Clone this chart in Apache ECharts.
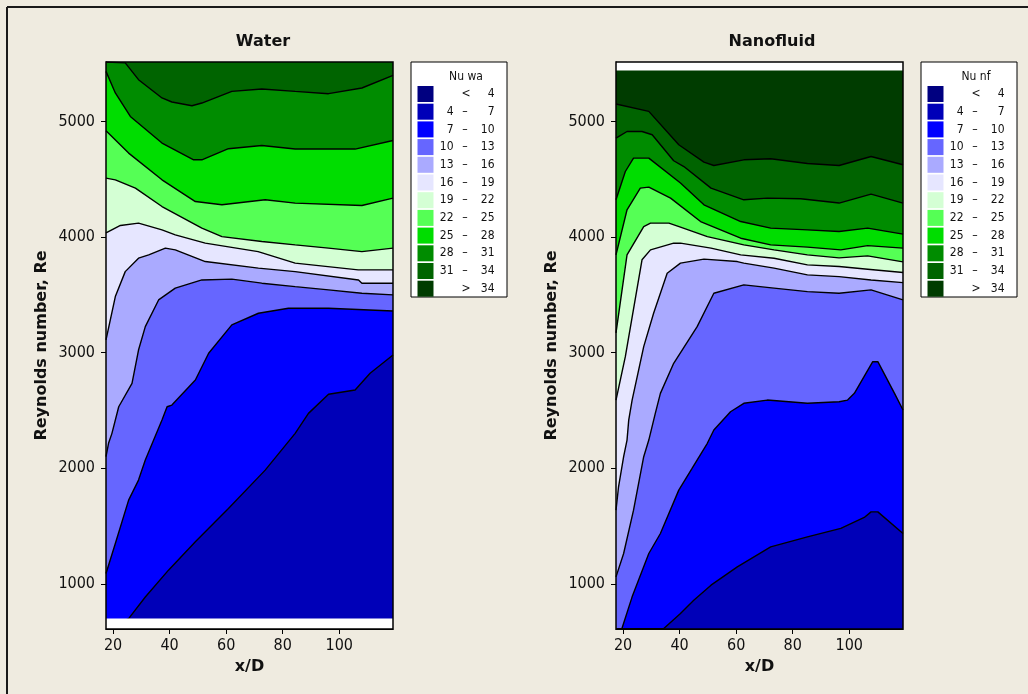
<!DOCTYPE html>
<html><head><meta charset="utf-8">
<script src="https://cdn.jsdelivr.net/npm/echarts@6/dist/echarts.min.js"></script>
<style>html,body{margin:0;padding:0;background:#EFEBE0}#c{width:1028px;height:694px}</style>
</head><body><div id="c"></div>
<script>
// ---------- axis ticks / ranges ----------
const xTicks = [20, 40, 60, 80, 100];
const reTicks = [1000, 2000, 3000, 4000, 5000];
const xRange = [17.5, 119];
const reRange = [610, 5514];
// data extent of each panel (outside: white)
const waterReRange = [700, 5500];
const nanoReRange = [610, 5441];

// ---------- contour levels / colours ----------
const nuLevels = [4, 7, 10, 13, 16, 19, 22, 25, 28, 31, 34];
const bandColors = ['#000080', '#0000B8', '#0000FF', '#6666FF', '#AAAAFF', '#E6E6FF',
                    '#D4FFD4', '#55FF55', '#00DD00', '#008C00', '#006400', '#003C00'];
const panelTitles = ['Water', 'Nanofluid'];
const legendTitles = ['Nu wa', 'Nu nf'];

// ---------- Water: contour lines [x/D, Re] ----------
const wa7  = [[17.5,610],[25.5,700],[31.4,887],[39.6,1119],[49.1,1364],[60.8,1653],[73.8,1984],[84.4,2302],[89.1,2475],[96.2,2640],[105.6,2677],[110.9,2822],[119,2980]];
const wa10 = [[17.5,1090],[20.8,1350],[25.5,1725],[29.0,1898],[31.4,2071],[37.3,2417],[39.1,2532],[40.8,2547],[49.1,2764],[53.8,2995],[62.0,3240],[71.4,3341],[82.0,3384],[96.2,3384],[119,3361]];
const wa13 = [[17.5,2100],[18.4,2216],[19.6,2302],[22.0,2532],[26.7,2735],[29.0,3023],[31.4,3225],[36.1,3456],[42.0,3558],[51.4,3629],[62.0,3636],[72.6,3601],[84.4,3571],[96.2,3543],[108.0,3514],[119,3500]];
const wa16 = [[17.5,3110],[20.8,3485],[24.3,3701],[29.0,3817],[32.6,3846],[38.5,3904],[42.0,3889],[52.6,3788],[71.4,3731],[84.4,3701],[106.8,3629],[108.0,3601],[119,3601]];
const wa19 = [[17.5,4036],[22.6,4100],[29.0,4120],[37.3,4062],[42.0,4019],[52.6,3947],[71.3,3874],[84.4,3774],[106.7,3716],[119,3716]];
const wa22 = [[17.5,4510],[20.8,4495],[27.9,4423],[37.3,4264],[51.4,4077],[58.5,4004],[72.6,3961],[84.4,3932],[96.2,3904],[108.0,3874],[119,3904]];
const wa25 = [[17.5,4919],[25.5,4726],[37.3,4495],[49.1,4307],[58.5,4279],[73.8,4322],[84.4,4293],[108.0,4273],[119,4337]];
const wa28 = [[17.5,5433],[20.8,5246],[26.1,5043],[37.3,4813],[48.5,4668],[51.4,4668],[60.8,4764],[72.6,4792],[84.4,4761],[96.2,4761],[105.6,4761],[119,4835]];
const wa31 = [[17.5,5514],[24.3,5506],[29.0,5361],[37.3,5203],[40.8,5168],[47.9,5136],[51.4,5159],[62.0,5260],[72.6,5281],[84.4,5260],[96.2,5240],[108.0,5289],[119,5398]];

// ---------- Nanofluid: contour lines [x/D, Re] ----------
const nf7  = [[17.5,610],[34.4,614],[40.3,744],[45.0,859],[51.1,989],[60.4,1147],[72.2,1320],[85.2,1407],[97.0,1480],[105.3,1575],[107.7,1623],[110.1,1623],[119,1436]];
const nf10 = [[17.5,610],[19.6,614],[23.2,888],[29.1,1263],[33.2,1436],[39.7,1811],[44.4,1999],[49.8,2216],[52.1,2331],[58.0,2489],[62.7,2562],[71.0,2590],[85.2,2562],[96.4,2576],[99.4,2590],[101.8,2648],[108.3,2922],[110.1,2922],[116.0,2648],[119,2504]];
const nf13 = [[17.5,1061],[20.2,1263],[23.7,1638],[27.3,2100],[29.1,2244],[31.4,2475],[33.2,2648],[37.9,2908],[46.2,3225],[52.1,3514],[62.7,3586],[73.4,3558],[85.2,3528],[96.4,3514],[107.7,3543],[119,3456]];
const nf16 = [[17.5,1638],[18.4,1840],[20.2,2100],[21.4,2244],[22.0,2417],[23.2,2590],[27.3,3052],[30.8,3341],[35.6,3687],[40.3,3774],[48.6,3809],[60.4,3788],[62.7,3774],[73.4,3731],[85.2,3673],[96.4,3658],[107.7,3629],[119,3606]];
const nf19 = [[17.5,2590],[20.8,2965],[26.7,3803],[29.7,3889],[37.9,3947],[40.3,3947],[51.1,3904],[61.6,3846],[73.4,3817],[85.2,3759],[96.4,3745],[106.5,3722],[119,3693]];
const nf22 = [[17.5,3171],[19.4,3500],[21.4,3846],[27.3,4091],[29.7,4120],[36.2,4120],[40.3,4086],[49.8,4004],[62.7,3932],[73.4,3889],[85.2,3846],[96.4,3820],[106.5,3837],[119,3785]];
const nf25 = [[17.5,3846],[21.4,4236],[26.1,4423],[29.1,4432],[36.8,4337],[47.4,4134],[61.6,3990],[72.2,3932],[85.2,3913],[97.0,3889],[106.5,3926],[119,3904]];
const nf28 = [[17.5,4322],[20.8,4567],[23.7,4683],[29.1,4683],[40.3,4467],[48.6,4279],[61.6,4134],[72.2,4077],[85.2,4062],[96.4,4048],[106.5,4077],[119,4025]];
const nf31 = [[17.5,4856],[21.4,4913],[26.7,4913],[30.3,4885],[37.9,4660],[41.5,4610],[51.1,4423],[62.7,4322],[71.0,4337],[82.8,4331],[96.4,4294],[107.7,4371],[119,4294]];
const nf34 = [[17.5,5151],[29.1,5087],[39.7,4798],[48.6,4648],[52.1,4619],[62.7,4668],[72.2,4677],[85.2,4636],[96.4,4619],[107.7,4697],[119,4625]];

const waterLines = [[7,wa7],[10,wa10],[13,wa13],[16,wa16],[19,wa19],[22,wa22],[25,wa25],[28,wa28],[31,wa31]];
const nanoLines  = [[7,nf7],[10,nf10],[13,nf13],[16,nf16],[19,nf19],[22,nf22],[25,nf25],[28,nf28],[31,nf31],[34,nf34]];

// ---------- layout ----------
const gridTop = 62, gridH = 567, gridW = 287;
const gridLefts = [106, 616];
const legendLefts = [411, 921];
const titleX = [263, 772];
const tickFont = 'DejaVu Sans Condensed';
const boldFont = 'DejaVu Sans';

const chart = echarts.init(document.getElementById('c'), null, {renderer: 'canvas'});

const grids = gridLefts.map(l => ({left: l, top: gridTop, width: gridW, height: gridH,
  show: true, backgroundColor: bandColors[1], borderWidth: 0, outerBoundsMode: 'none', containLabel: false}));

const plain = v => String(v);
const xAxes = [0, 1].map(g => ({
  type: 'value', gridIndex: g, min: xRange[0], max: xRange[1],
  axisLine: {show: true, lineStyle: {color: '#000', width: 1}},
  axisTick: {show: true, length: 5, customValues: xTicks, lineStyle: {color: '#000', width: 1}},
  axisLabel: {customValues: xTicks, formatter: plain, color: '#111', fontFamily: tickFont, fontSize: 16, margin: 9},
  splitLine: {show: false},
  name: 'x/D', nameLocation: 'middle', nameGap: 30,
  nameTextStyle: {fontFamily: boldFont, fontWeight: 'bold', fontSize: 16, color: '#111'}
}));
const yAxes = [0, 1].map(g => ({
  type: 'value', gridIndex: g, min: reRange[0], max: reRange[1],
  axisLine: {show: true, lineStyle: {color: '#000', width: 1}},
  axisTick: {show: true, length: 5, customValues: reTicks, lineStyle: {color: '#000', width: 1}},
  axisLabel: {customValues: reTicks, formatter: plain, color: '#111', fontFamily: tickFont, fontSize: 16, margin: 11},
  splitLine: {show: false},
  name: 'Reynolds number, Re', nameLocation: 'middle', nameGap: 56,
  nameTextStyle: {fontFamily: boldFont, fontWeight: 'bold', fontSize: 16, color: '#111'}
}));

const series = [];
[waterLines, nanoLines].forEach((lines, g) => {
  lines.forEach(([lev, pts], k) => {
    series.push({
      type: 'line', xAxisIndex: g, yAxisIndex: g, data: pts,
      showSymbol: false, symbol: 'none', silent: true, animation: false, clip: true,
      lineStyle: {color: '#000', width: 1.4},
      areaStyle: {color: bandColors[nuLevels.indexOf(lev) + 1], opacity: 1, origin: 'end'},
      z: 2 + k
    });
  });
});
// white areas outside the measured range
series.push({
  type: 'line', xAxisIndex: 0, yAxisIndex: 0, silent: true, animation: false, symbol: 'none',
  data: [[xRange[0], waterReRange[0]], [xRange[1], waterReRange[0]]],
  lineStyle: {width: 0}, areaStyle: {color: '#FFFFFF', opacity: 1, origin: 'start'}, z: 40
});
series.push({
  type: 'line', xAxisIndex: 1, yAxisIndex: 1, silent: true, animation: false, symbol: 'none',
  data: [[xRange[0], nanoReRange[1]], [xRange[1], nanoReRange[1]]],
  lineStyle: {width: 0}, areaStyle: {color: '#FFFFFF', opacity: 1, origin: 'end'}, z: 40
});

// ---------- graphics: frames, titles, legends ----------
const graphic = [];
graphic.push({type: 'line', z: 100, shape: {x1: 7, y1: 7, x2: 1028, y2: 7}, style: {stroke: '#1a1a1a', lineWidth: 2}});
graphic.push({type: 'line', z: 100, shape: {x1: 7, y1: 7, x2: 7, y2: 694}, style: {stroke: '#1a1a1a', lineWidth: 2}});
gridLefts.forEach((l, g) => {
  graphic.push({type: 'rect', z: 100, shape: {x: l, y: gridTop, width: gridW, height: gridH},
    style: {fill: 'none', stroke: '#000', lineWidth: 1.5}});
  graphic.push({type: 'text', z: 100, x: titleX[g], y: 42,
    style: {text: panelTitles[g], fill: '#111', fontFamily: boldFont, fontWeight: 'bold', fontSize: 16, align: 'center', verticalAlign: 'middle'}});
  const L = legendLefts[g];
  graphic.push({type: 'rect', z: 100, shape: {x: L, y: 62, width: 96, height: 235},
    style: {fill: '#FFFFFF', stroke: '#000', lineWidth: 1}});
  graphic.push({type: 'text', z: 101, x: L + 55, y: 77,
    style: {text: legendTitles[g], fill: '#111', fontFamily: tickFont, fontSize: 12, align: 'center', verticalAlign: 'middle'}});
  bandColors.forEach((c, i) => {
    const top = 86 + 17.7 * i, cy = top + 8;
    graphic.push({type: 'rect', z: 101, shape: {x: L + 6.5, y: top, width: 16, height: 16}, style: {fill: c}});
    const ts = {fill: '#111', fontFamily: tickFont, fontSize: 12, verticalAlign: 'middle'};
    if (i === 0 || i === bandColors.length - 1) {
      const sym = i === 0 ? '<' : '>';
      const val = i === 0 ? nuLevels[0] : nuLevels[nuLevels.length - 1];
      graphic.push({type: 'text', z: 101, x: L + 55, y: cy, style: Object.assign({text: sym, align: 'center'}, ts)});
      graphic.push({type: 'text', z: 101, x: L + 83.5, y: cy, style: Object.assign({text: String(val), align: 'right'}, ts)});
    } else {
      graphic.push({type: 'text', z: 101, x: L + 42.5, y: cy, style: Object.assign({text: String(nuLevels[i - 1]), align: 'right'}, ts)});
      graphic.push({type: 'text', z: 101, x: L + 54, y: cy, style: Object.assign({text: '–', align: 'center'}, ts)});
      graphic.push({type: 'text', z: 101, x: L + 83.5, y: cy, style: Object.assign({text: String(nuLevels[i]), align: 'right'}, ts)});
    }
  });
});

chart.setOption({
  backgroundColor: '#EFEBE0',
  animation: false,
  grid: grids, xAxis: xAxes, yAxis: yAxes, series: series, graphic: graphic
});
</script></body></html>
